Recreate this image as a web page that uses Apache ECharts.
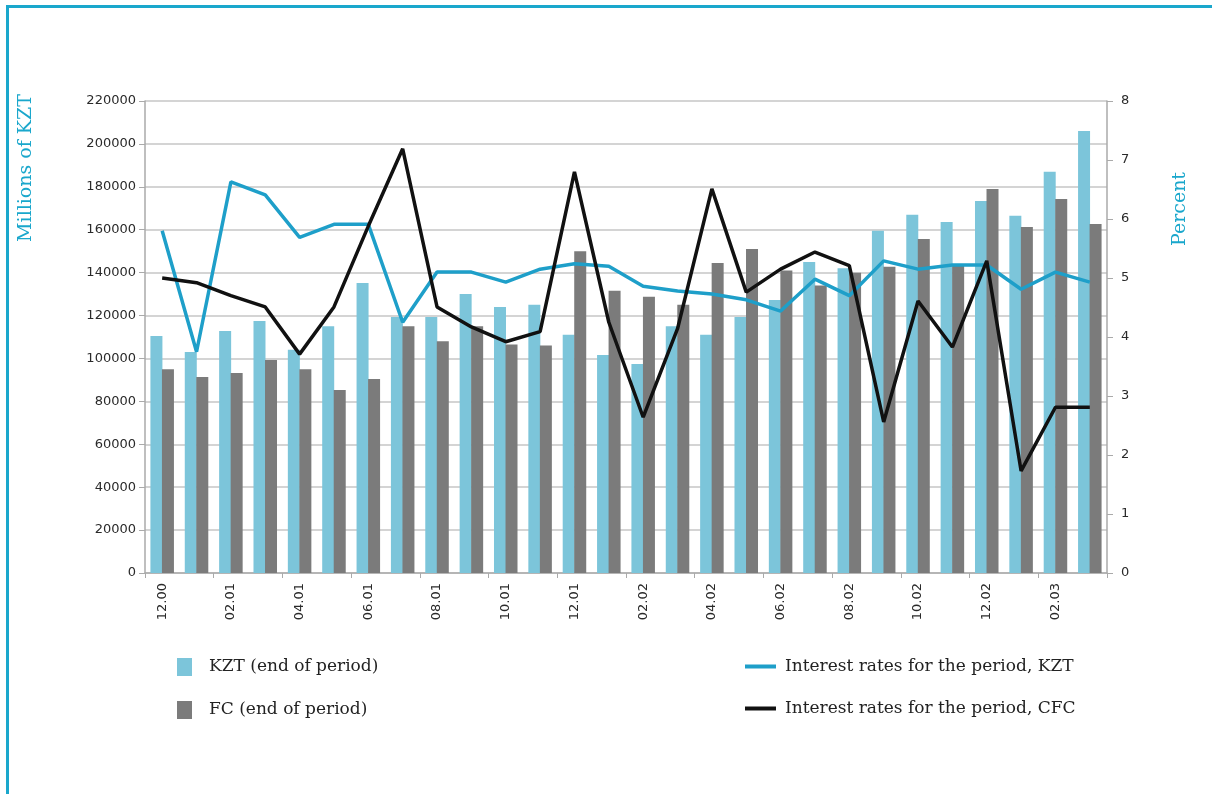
<!DOCTYPE html>
<html>
<head>
<meta charset="utf-8">
<script src="https://cdn.jsdelivr.net/npm/echarts@6/dist/echarts.min.js"></script>
<style>
  html, body { margin: 0; padding: 0; background: #fff; }
  #frame { position: absolute; left: 6px; top: 5px; width: 1206px; height: 789px;
           border-left: 3px solid #1aa7cc; border-top: 3px solid #1aa7cc; box-sizing: border-box; }
  #chart { position: absolute; left: 0; top: 0; width: 1212px; height: 794px; }
</style>
</head>
<body>
<div id="frame"></div>
<div id="chart"></div>
<script>
const categories = ['12.00',
  '01.01','02.01','03.01','04.01','05.01','06.01','07.01','08.01','09.01','10.01','11.01','12.01',
  '01.02','02.02','03.02','04.02','05.02','06.02','07.02','08.02','09.02','10.02','11.02','12.02',
  '01.03','02.03','03.03'];

const kztDeposits = [110500, 103000, 112800, 117500, 104000, 115000, 135200, 119300, 119300, 130000,
  124000, 125000, 111000, 101600, 97400, 115000, 111000, 119300, 127300, 145000,
  142000, 159500, 167000, 163600, 173400, 166500, 187000, 206000];

const fcDeposits = [95000, 91400, 93200, 99300, 95000, 85300, 90400, 115000, 108000, 115000,
  106500, 106000, 150000, 131500, 128800, 125000, 144500, 151000, 141000, 134000,
  140000, 142700, 155700, 144000, 179000, 161300, 174300, 162700];

const rateKZT = [5.80, 3.75, 6.63, 6.41, 5.69, 5.91, 5.91, 4.25, 5.10, 5.10,
  4.93, 5.15, 5.24, 5.20, 4.86, 4.78, 4.73, 4.63, 4.44, 4.98,
  4.70, 5.29, 5.15, 5.22, 5.22, 4.81, 5.10, 4.93];

const rateCFC = [5.00, 4.92, 4.70, 4.51, 3.71, 4.51, 5.88, 7.19, 4.51, 4.17,
  3.92, 4.09, 6.80, 4.25, 2.64, 4.14, 6.51, 4.76, 5.15, 5.44,
  5.21, 2.56, 4.61, 3.83, 5.29, 1.73, 2.81, 2.81];

const leftTicks = { min: 0, max: 220000, interval: 20000 };
const rightTicks = { min: 0, max: 8, interval: 1 };

const names = ['KZT (end of period)', 'FC (end of period)',
  'Interest rates for the period, KZT', 'Interest rates for the period, CFC'];

const chart = echarts.init(document.getElementById('chart'));
const axisLabelStyle = { fontFamily: 'DejaVu Sans', fontSize: 13, color: '#2a2a2a' };
const serif = 'DejaVu Serif';

chart.setOption({
  animation: false,
  grid: { left: 145, right: 105, top: 101, bottom: 221 },
  legend: [
    { left: 172, top: 653, orient: 'vertical', itemGap: 25, itemWidth: 15, itemHeight: 18,
      icon: 'rect',
      textStyle: { fontFamily: serif, fontSize: 17, color: '#222', padding: [0, 0, 0, 12] },
      data: [names[0], names[1]] },
    { left: 740, top: 653, orient: 'vertical', itemGap: 25, itemWidth: 31, itemHeight: 18,
      textStyle: { fontFamily: serif, fontSize: 17, color: '#222', padding: [0, 0, 0, 4] },
      data: [
        { name: names[2], icon: 'path://M0,7 L31,7 L31,11 L0,11 Z' },
        { name: names[3], icon: 'path://M0,7 L31,7 L31,11 L0,11 Z' }
      ] }
  ],
  graphic: [
    { type: 'text', x: 26, y: 168, rotation: Math.PI / 2,
      style: { text: 'Millions of KZT', fontFamily: serif, fontSize: 19, fill: '#1aa7cc',
               align: 'center', verticalAlign: 'middle' } },
    { type: 'text', x: 1180, y: 209, rotation: Math.PI / 2,
      style: { text: 'Percent', fontFamily: serif, fontSize: 19, fill: '#1aa7cc',
               align: 'center', verticalAlign: 'middle' } }
  ],
  xAxis: {
    type: 'category', data: categories,
    axisLine: { lineStyle: { color: '#aaa', width: 1.5 } },
    axisTick: { show: true, length: 5, lineStyle: { color: '#aaa' } },
    axisLabel: Object.assign({ interval: 1, rotate: 90, margin: 10 }, axisLabelStyle)
  },
  yAxis: [
    { type: 'value', min: leftTicks.min, max: leftTicks.max, interval: leftTicks.interval,
      axisLine: { show: true, lineStyle: { color: '#aaa', width: 1.5 } },
      axisTick: { show: true, length: 6, lineStyle: { color: '#aaa' } },
      axisLabel: Object.assign({ margin: 9, formatter: v => String(v) }, axisLabelStyle),
      splitLine: { show: true, lineStyle: { color: '#c6c6c6', width: 1.5 } } },
    { type: 'value', min: rightTicks.min, max: rightTicks.max, interval: rightTicks.interval,
      position: 'right',
      axisLine: { show: true, lineStyle: { color: '#aaa', width: 1.5 } },
      axisTick: { show: true, length: 6, lineStyle: { color: '#aaa' } },
      axisLabel: Object.assign({ margin: 14, formatter: v => String(v) }, axisLabelStyle),
      splitLine: { show: false } }
  ],
  series: [
    { name: names[0], type: 'bar', data: kztDeposits, barWidth: 12, barGap: '-4%',
      itemStyle: { color: '#7cc5da' } },
    { name: names[1], type: 'bar', data: fcDeposits, barWidth: 12,
      itemStyle: { color: '#7b7b7b' } },
    { name: names[2], type: 'line', yAxisIndex: 1, data: rateKZT, showSymbol: false,
      lineStyle: { color: '#1e9fc9', width: 3.5 }, itemStyle: { color: '#1e9fc9' }, z: 5 },
    { name: names[3], type: 'line', yAxisIndex: 1, data: rateCFC, showSymbol: false,
      lineStyle: { color: '#111', width: 3.5 }, itemStyle: { color: '#111' }, z: 6 }
  ]
});
</script>
</body>
</html>
